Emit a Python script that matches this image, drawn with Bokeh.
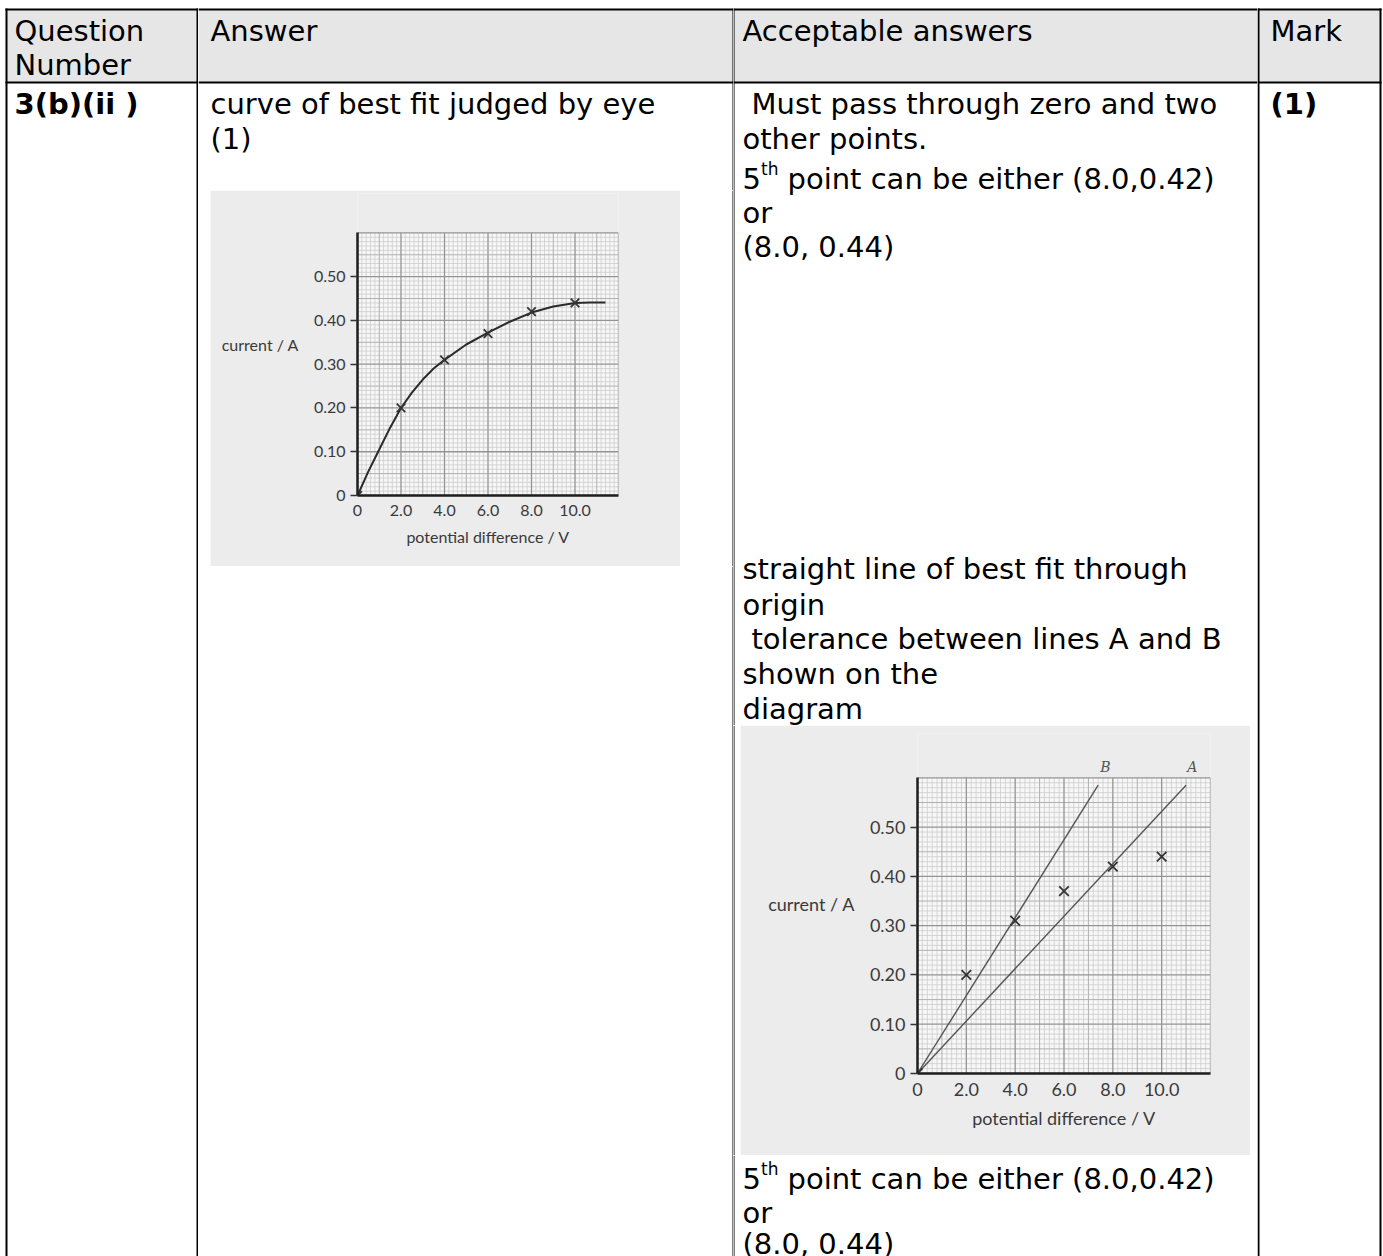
import numpy as np
from bokeh.plotting import figure
from bokeh.layouts import row, column
from bokeh.models import Range1d, FixedTicker
from bokeh.core.properties import value
from bokeh.embed import file_html
from bokeh.resources import INLINE

# ---------------- data ----------------
pd_values = [0.0, 2.0, 4.0, 6.0, 8.0, 10.0]           # potential difference / V
current_values = [0.0, 0.20, 0.31, 0.37, 0.42, 0.44]  # current / A

# curve of best fit as drawn in the left graph (read by eye)
curve_pd = [0.0, 0.5, 1.0, 1.5, 2.0, 2.5, 3.0, 3.5, 4.0, 5.0, 6.0, 7.0, 8.0, 9.0, 10.0, 10.7, 11.4]
curve_current = [0.0, 0.055, 0.105, 0.155, 0.20, 0.235, 0.265, 0.29, 0.31, 0.345, 0.372,
                 0.397, 0.418, 0.432, 0.440, 0.441, 0.441]

# tolerance lines A and B in the right graph
line_a_pd = [0.0, 11.0]
line_a_current = [0.0, 0.585]
line_b_pd = [0.0, 7.4]
line_b_current = [0.0, 0.585]
line_label_text = ["A", "B"]
line_label_pd = [11.25, 7.7]
line_label_current = [0.622, 0.622]

x_ticks = [0, 2, 4, 6, 8, 10]
x_tick_labels = ["0", "2.0", "4.0", "6.0", "8.0", "10.0"]
y_ticks = [0, 0.1, 0.2, 0.3, 0.4, 0.5]
y_tick_labels = ["0", "0.10", "0.20", "0.30", "0.40", "0.50"]
x_label = "potential difference / V"
y_label = "current / A"

GRID_X_MAX = 12.0
GRID_Y_MAX = 0.6
VIEW_Y_MAX = 0.69

# table texts
header_text = ["Question", "Number", "Answer", "Acceptable answers", "Mark"]
body_text = ["curve of best fit judged by eye", "(1)",
             "Must pass through  zero and two", "other points.",
             "or", "(8.0, 0.44)",
             "straight line of best fit through", "origin",
             "tolerance between lines A and B", "shown on the", "diagram",
             "or", "(8.0, 0.44)"]
bold_text = ["3(b)(ii )", "(1)"]
fifth_point_text = ["5", "th", "point can be either (8.0,0.42)"]

# ---------------- layout geometry (page pixels) ----------------
W, H = 1383, 1256
V_LINES = [6, 197, 733, 1258, 1380]   # centres of the 2px vertical rules
TOP_Y = 9
HDR_Y = 82
RULE = 1.0                             # half width of a rule
FONT = "DejaVu Sans"
FS = "29px"

header_pos = [(14, 30), (14, 64), (210, 30), (742, 30), (1270, 30)]
body_pos = [(210, 103), (210, 138),
            (751, 103), (742, 138),
            (742, 212), (742, 246),
            (742, 568), (742, 604),
            (751, 638), (742, 673), (742, 708),
            (742, 1212), (742, 1243)]
bold_pos = [(14, 103), (1270, 103)]
fifth_y = [178, 1178]
FIFTH_X = 742


def panel(x0, y0, w, h):
    x1, y1 = x0 + w, y0 + h
    p = figure(width=w, height=h, x_range=Range1d(x0, x1), y_range=Range1d(y1, y0),
               x_axis_location=None, y_axis_location=None, min_border=0,
               output_backend="svg", toolbar_location=None, title=None,
               outline_line_color=None, background_fill_color="white",
               border_fill_color="white", frame_align=False)
    p.grid.visible = False
    # header background, limited to this panel
    hl, hr = max(x0, V_LINES[0]), min(x1, V_LINES[-1])
    ht, hb = max(y0, TOP_Y), min(y1, HDR_Y)
    if hl < hr and ht < hb:
        p.quad(left=[hl], right=[hr], top=[ht], bottom=[hb],
               fill_color="#e6e6e6", line_color=None)
    # table rules as filled strips, each cut to the part inside this panel
    L, R, T, B = [], [], [], []
    for v in V_LINES:
        l, r = max(x0, v - RULE), min(x1, v + RULE)
        t, b = max(y0, TOP_Y - RULE), y1
        if l < r and t < b:
            L.append(l); R.append(r); T.append(t); B.append(b)
    for hy in (TOP_Y, HDR_Y):
        l, r = max(x0, V_LINES[0] - RULE), min(x1, V_LINES[-1] + RULE)
        t, b = max(y0, hy - RULE), min(y1, hy + RULE)
        if l < r and t < b:
            L.append(l); R.append(r); T.append(t); B.append(b)
    if L:
        p.quad(left=L, right=R, top=T, bottom=B, fill_color="black", line_color=None)

    def inside(x, y):
        return x0 <= x < x1 and y0 <= y < y1

    tx, ty, tt = [], [], []
    for (x, y), t in zip(header_pos + body_pos, header_text + body_text):
        if inside(x, y):
            tx.append(x); ty.append(y); tt.append(t)
    if tt:
        p.text(x=tx, y=ty, text=tt, text_font=value(FONT), text_font_size=FS,
               text_baseline="middle", text_align="left", text_color="black")
    bx, by, bt = [], [], []
    for (x, y), t in zip(bold_pos, bold_text):
        if inside(x, y):
            bx.append(x); by.append(y); bt.append(t)
    if bt:
        p.text(x=bx, y=by, text=bt, text_font=value(FONT), text_font_size=FS,
               text_font_style="bold", text_baseline="middle", text_align="left",
               text_color="black")
    for fy in fifth_y:
        if inside(FIFTH_X, fy):
            p.text(x=[FIFTH_X], y=[fy], text=[fifth_point_text[0]], text_font=value(FONT),
                   text_font_size=FS, text_baseline="middle", text_color="black")
            p.text(x=[FIFTH_X + 18.5], y=[fy - 10], text=[fifth_point_text[1]],
                   text_font=value(FONT), text_font_size="17px", text_baseline="middle",
                   text_color="black")
            p.text(x=[FIFTH_X + 45], y=[fy], text=[fifth_point_text[2]], text_font=value(FONT),
                   text_font_size=FS, text_baseline="middle", text_color="black")
    return p


def chart(w, h, left, right, top, bottom, font_px, straight_lines):
    bg = "#ececec"
    p = figure(width=w, height=h, x_range=Range1d(0, GRID_X_MAX), y_range=Range1d(0, VIEW_Y_MAX),
               min_border_left=left, min_border_right=right, min_border_top=top,
               min_border_bottom=bottom, output_backend="svg", toolbar_location=None,
               title=None, outline_line_color=None, background_fill_color=bg,
               border_fill_color=bg, frame_align=False)
    p.grid.visible = False
    # graph paper
    p.quad(left=[0], right=[GRID_X_MAX], bottom=[0], top=[GRID_Y_MAX],
           fill_color="#f7f7f7", line_color=None)
    gx = np.round(np.arange(0, GRID_X_MAX + 1e-9, 0.2), 4)
    gy = np.round(np.arange(0, GRID_Y_MAX + 1e-9, 0.01), 4)
    tiers = [("#cdcdcd", 0.8), ("#b0b0b0", 1.0), ("#949494", 1.3)]
    for k, (col, lw) in enumerate(tiers):
        sx = [x for i, x in enumerate(gx) if (i % 10 == 0) + (i % 5 == 0) == k]
        sy = [y for i, y in enumerate(gy) if (i % 10 == 0) + (i % 5 == 0) == k]
        p.segment(x0=sx, y0=[0] * len(sx), x1=sx, y1=[GRID_Y_MAX] * len(sx),
                  line_color=col, line_width=lw)
        p.segment(x0=[0] * len(sy), y0=sy, x1=[GRID_X_MAX] * len(sy), y1=sy,
                  line_color=col, line_width=lw)
    if straight_lines:
        p.line(line_a_pd, line_a_current, line_color="#555555", line_width=1.4)
        p.line(line_b_pd, line_b_current, line_color="#555555", line_width=1.4)
        p.text(x=line_label_pd, y=line_label_current, text=line_label_text,
               text_font=value("DejaVu Serif"), text_font_style="italic",
               text_font_size="14px", text_color="#555555", text_align="center",
               text_baseline="middle")
    else:
        p.line(curve_pd, curve_current, line_color="#2a2a2a", line_width=2)
    p.scatter(pd_values, current_values, marker="x", size=font_px * 0.75,
              line_color="#333333", line_width=1.8)

    fs = f"{font_px}px"
    for ax in (p.xaxis[0], p.yaxis[0]):
        ax.axis_line_color = "#1e1e1e"
        ax.axis_line_width = 2.5
        ax.minor_tick_line_color = None
        ax.major_tick_in = 0
        ax.major_label_text_font = "Lato"
        ax.major_label_text_font_size = fs
        ax.major_label_text_color = "#3a3a3a"
        ax.axis_label_text_font = "Lato"
        ax.axis_label_text_font_size = fs
        ax.axis_label_text_font_style = "normal"
        ax.axis_label_text_color = "#3a3a3a"
    xa, ya = p.xaxis[0], p.yaxis[0]
    xa.ticker = FixedTicker(ticks=x_ticks)
    xa.major_label_overrides = {t: s for t, s in zip(x_ticks, x_tick_labels)}
    xa.bounds = (0, GRID_X_MAX)
    xa.major_tick_out = 0
    xa.major_label_standoff = 9
    xa.axis_label = x_label
    xa.axis_label_standoff = 8
    ya.ticker = FixedTicker(ticks=y_ticks)
    ya.major_label_overrides = {t: s for t, s in zip(y_ticks, y_tick_labels)}
    ya.bounds = (0, GRID_Y_MAX)
    ya.major_tick_out = 7
    ya.major_tick_line_color = "#333333"
    ya.major_tick_line_width = 1.5
    ya.major_label_standoff = 5
    ya.axis_label = y_label
    ya.axis_label_orientation = "horizontal"
    ya.axis_label_standoff = 12
    return p


# column A and D
pA = panel(0, 0, 198, H)
pD = panel(1257, 0, W - 1257, H)

# column B with left graph (image area x 210-680, y 190-566)
chart1 = chart(470, 376, 147, 62, 3, 71, 16, False)
colB = column(
    panel(198, 0, 535, 190),
    row(panel(198, 190, 12, 376), chart1, panel(680, 190, 53, 376)),
    panel(198, 566, 535, H - 566),
)

# column C with right graph (image area x 740-1250, y 725-1155)
chart2 = chart(510, 430, 177, 40, 8, 82, 18, True)
colC = column(
    panel(733, 0, 524, 725),
    row(panel(733, 725, 7, 430), chart2, panel(1250, 725, 7, 430)),
    panel(733, 1155, 524, H - 1155),
)

layout = row(pA, colB, colC, pD)

with open("out.html", "w") as f:
    f.write(file_html(layout, INLINE))
